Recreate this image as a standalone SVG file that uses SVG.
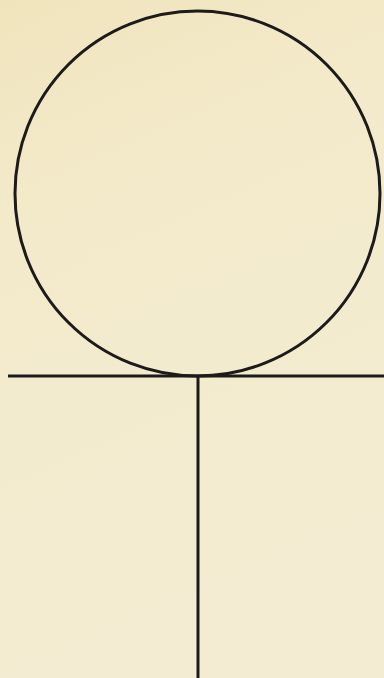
<svg xmlns="http://www.w3.org/2000/svg" width="384" height="678" viewBox="0 0 384 678">
  <defs>
    <linearGradient id="bg" x1="0" y1="0" x2="0.25" y2="1">
      <stop offset="0" stop-color="#F0E4BC"/>
      <stop offset="0.3" stop-color="#F3EACA"/>
      <stop offset="1" stop-color="#F3ECD2"/>
    </linearGradient>
    <style>
      .ln { fill: none; stroke: #1c1a1a; stroke-width: 3; }
    </style>
  </defs>
  <rect x="0" y="0" width="384" height="678" fill="url(#bg)"/>
  <g id="circle">
    <circle class="ln" cx="197.5" cy="193.5" r="182.5"/>
  </g>
  <g id="connectors">
    <line class="ln" x1="8" y1="376" x2="384" y2="376"/>
    <line class="ln" x1="198" y1="376" x2="198" y2="678"/>
  </g>
</svg>
